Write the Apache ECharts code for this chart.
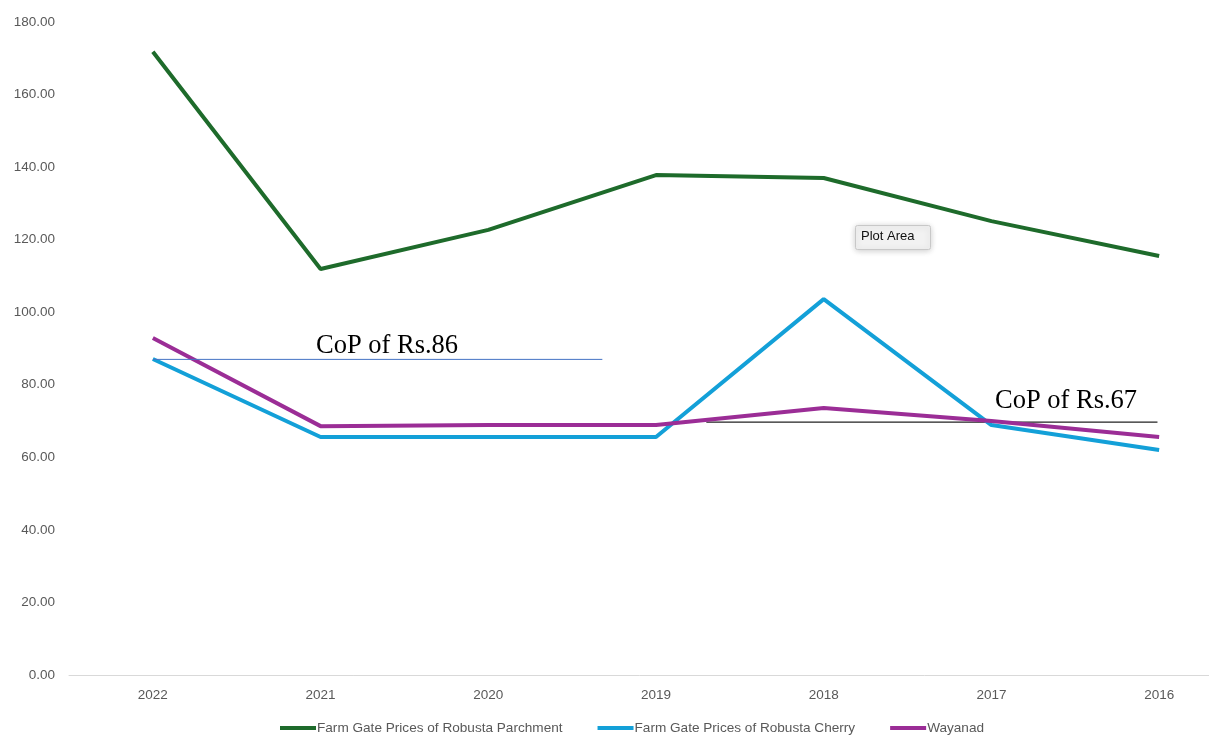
<!DOCTYPE html>
<html><head><meta charset="utf-8">
<script src="https://cdn.jsdelivr.net/npm/echarts@6/dist/echarts.min.js"></script>
<style>html,body{margin:0;padding:0;background:#fff}#c{width:1209px;height:735px}</style>
</head><body><div id="c"></div>
<script>
const years = ['2022','2021','2020','2019','2018','2017','2016'];
const parchment = [171.8, 111.9, 122.7, 137.8, 137.0, 125.1, 115.5];
const cherry = [87.1, 65.6, 65.6, 65.6, 103.6, 68.9, 62.0];
const wayanad = [92.9, 68.6, 68.9, 68.9, 73.6, 70.0, 65.6];
const cop86 = [[0, 87.0], [2.68, 87.0]];
const cop67 = [[3.3, 69.7], [5.99, 69.7]];
const yTicks = { min: 0, max: 180, interval: 20 };

const chart = echarts.init(document.getElementById('c'));
const lbl = { color: '#595959', fontSize: 13.5, fontFamily: 'Liberation Sans, Arial, sans-serif' };
chart.setOption({
  animation: false,
  grid: { left: 69, width: 1174, top: 22, bottom: 60, containLabel: false, outerBoundsMode: 'none' },
  xAxis: [
    { type: 'category', data: years, boundaryGap: true,
      axisLine: { lineStyle: { color: '#d9d9d9' } }, axisTick: { show: false },
      axisLabel: Object.assign({ margin: 13 }, lbl) },
    { type: 'value', min: -0.5, max: 6.5, show: false }
  ],
  yAxis: { type: 'value', min: yTicks.min, max: yTicks.max, interval: yTicks.interval,
    splitLine: { show: false }, axisLine: { show: false }, axisTick: { show: false },
    axisLabel: Object.assign({ margin: 14, formatter: v => v.toFixed(2) }, lbl) },
  legend: {
    bottom: -5, left: 275, itemGap: 35, itemWidth: 36, itemHeight: 4, icon: 'rect',
    textStyle: { color: '#595959', fontSize: 13.6, fontFamily: 'Liberation Sans Narrow, Liberation Sans, sans-serif', padding: [0,0,0,-4] },
    data: ['Farm Gate Prices of Robusta Parchment', 'Farm Gate Prices of Robusta Cherry', 'Wayanad']
  },
  series: [
    { name: 'Farm Gate Prices of Robusta Parchment', type: 'line', data: parchment, symbol: 'none',
      color: '#1e6b2b', lineStyle: { width: 4, color: '#1e6b2b' } },
    { name: 'Farm Gate Prices of Robusta Cherry', type: 'line', data: cherry, symbol: 'none',
      color: '#13a0d8', lineStyle: { width: 4, color: '#13a0d8' } },
    { name: 'Wayanad', type: 'line', data: wayanad, symbol: 'none',
      color: '#9b2d96', lineStyle: { width: 4, color: '#9b2d96' } },
    { name: 'cop86', type: 'line', xAxisIndex: 1, data: cop86, symbol: 'none', silent: true, z: 3,
      lineStyle: { width: 1, color: '#4472c4' } },
    { name: 'cop67', type: 'line', xAxisIndex: 1, data: cop67, symbol: 'none', silent: true, z: 1,
      lineStyle: { width: 1.2, color: '#222' } }
  ],
  graphic: [
    { type: 'text', left: 316, top: 333, style: { text: 'CoP of Rs.86', fill: '#000', font: '26.5px "Liberation Serif", serif' } },
    { type: 'text', left: 995, top: 388, style: { text: 'CoP of Rs.67', fill: '#000', font: '26.5px "Liberation Serif", serif' } },
    { type: 'rect', left: 855, top: 225, shape: { width: 75, height: 24, r: 2 },
      style: { fill: '#f2f2f2', stroke: '#c8c8c8', lineWidth: 1, shadowBlur: 6, shadowColor: 'rgba(0,0,0,0.2)', shadowOffsetY: 1 } },
    { type: 'text', left: 861, top: 230, style: { text: 'Plot Area', fill: '#111', font: '13px "Liberation Sans", sans-serif' } }
  ]
});
</script></body></html>
